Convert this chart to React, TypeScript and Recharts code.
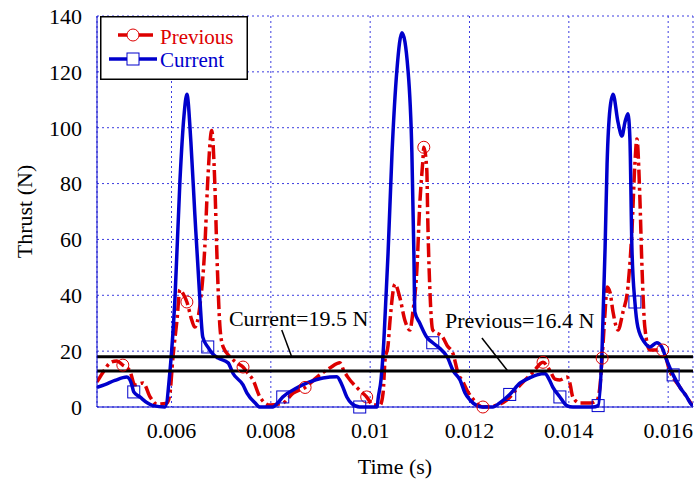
import {
  CartesianGrid,
  Legend,
  Line,
  LineChart,
  ReferenceDot,
  ReferenceLine,
  XAxis,
  YAxis,
} from "recharts";

const RED = "#dd0000";
const BLUE = "#0000cc";
const GRID = "#3c3ce0";
const FONT = "Liberation Serif";

// time (s) / thrust (N)
const prevTime = [
  0.0045, 0.00456, 0.00466, 0.00476, 0.0049, 0.00502, 0.00516, 0.00526, 0.00543, 0.00557,
  0.00571, 0.00591, 0.00597, 0.00603, 0.00611, 0.00617, 0.00625, 0.00631, 0.00641, 0.00647,
  0.00657, 0.00667, 0.00673, 0.00681, 0.00687, 0.00692, 0.00698, 0.00704, 0.00718, 0.0073,
  0.00744, 0.00754, 0.00764, 0.00778, 0.00798, 0.00824, 0.00845, 0.00869, 0.00893, 0.00919,
  0.00939, 0.00947, 0.00955, 0.00973, 0.00985, 0.00993, 0.01006, 0.0102, 0.01026, 0.0103,
  0.01036, 0.0104, 0.0105, 0.0106, 0.0107, 0.0108, 0.01086, 0.01094, 0.011, 0.01106,
  0.01108, 0.01114, 0.01116, 0.0112, 0.01126, 0.01146, 0.01155, 0.01167, 0.01177, 0.01187,
  0.01195, 0.01211, 0.01227, 0.01251, 0.01275, 0.01302, 0.01328, 0.01348, 0.01362, 0.01372,
  0.01382, 0.01396, 0.01402, 0.01408, 0.01422, 0.01442, 0.01457, 0.01463, 0.01467, 0.01473,
  0.01477, 0.01483, 0.01489, 0.01499, 0.01509, 0.01519, 0.01527, 0.01533, 0.01537, 0.01543,
  0.01547, 0.01553, 0.01563, 0.01577, 0.01589, 0.01603, 0.01624, 0.01636, 0.01648,
];
const prevThrust = [
  9, 10.7, 13.5, 15.8, 16.5, 15, 13, 7.9, 8.6, 3.6,
  1, 1.4, 5, 18, 31, 42, 40, 37.6, 31, 28.6,
  36, 57, 81, 99, 81, 51.5, 27.6, 21.5, 18, 16,
  14.3, 12, 9.7, 3.6, 0.7, 1.4, 5, 7, 10.7, 14,
  15.8, 13, 10.7, 7, 5, 3.6, 0.7, 0.7, 5, 17,
  22, 31, 44, 39, 31, 27.6, 34, 49, 73, 88,
  93, 85, 67, 43, 27.6, 25, 22, 19, 12, 9,
  6, 2, 0, 0.5, 2.5, 7.9, 12.5, 16, 13, 10,
  9.7, 10.7, 8.6, 3.6, 1.4, 1.4, 2.5, 8, 17.5, 34,
  43, 41, 34, 27.6, 34, 43, 63, 87, 96, 75,
  51.5, 28.6, 20.4, 20.4, 20.4, 13, 7, 4, 0.7,
];

const currTime = [
  0.0045, 0.00466, 0.00486, 0.0051, 0.0052, 0.00524, 0.00537, 0.00551, 0.00563, 0.00587,
  0.00597, 0.00607, 0.00617, 0.00625, 0.00631, 0.00639, 0.00647, 0.00657, 0.00663, 0.00673,
  0.00683, 0.00694, 0.00714, 0.00724, 0.00744, 0.00752, 0.00768, 0.00778, 0.00804, 0.00814,
  0.00824, 0.00849, 0.00873, 0.00905, 0.00933, 0.00943, 0.00953, 0.00963, 0.00979, 0.01014,
  0.01016, 0.01022, 0.01026, 0.01032, 0.01036, 0.01044, 0.01054, 0.01064, 0.01076, 0.01084,
  0.01088, 0.0109, 0.011, 0.01114, 0.01126, 0.0114, 0.01155, 0.01167, 0.01181, 0.01191,
  0.01201, 0.01215, 0.01227, 0.01247, 0.01261, 0.01281, 0.01302, 0.01322, 0.01336, 0.01352,
  0.0136, 0.01368, 0.01382, 0.01396, 0.01408, 0.01448, 0.01459, 0.01467, 0.01473, 0.01477,
  0.01483, 0.01489, 0.01499, 0.01507, 0.01513, 0.01519, 0.01523, 0.01527, 0.01533, 0.01539,
  0.01553, 0.01563, 0.01577, 0.01587, 0.01597, 0.0161, 0.01624, 0.01636, 0.01648, 0.0165,
];
const currThrust = [
  7, 8, 9.5, 10.7, 8, 5.4, 3.5, 1.5, 0.5, 0,
  13, 39, 81, 104, 112, 95, 69, 39, 25, 21.5,
  19, 17.5, 15.8, 12, 7.9, 5, 1.5, 0, 0, 1.5,
  3.6, 6.5, 8.6, 10.4, 10.8, 8, 3.6, 1.2, 0, 0,
  3, 10, 19, 40, 55, 91, 121, 134, 121, 91,
  55, 34, 30, 25, 23, 21, 18, 13, 9.7, 5,
  2.5, 0.5, 0, 0, 1.5, 4.5, 8.6, 10.5, 11.5, 12,
  10, 7, 3.6, 0.5, 0, 0, 0.5, 21, 57, 87,
  107, 112, 102, 97, 102, 105, 96, 57, 37.6, 28.6,
  23, 21.5, 23, 21.5, 16.8, 11.5, 7, 4, 0.7, 0.5,
];

const prevMarkers = [0.00502, 0.00631, 0.00744, 0.00869, 0.00993, 0.01108, 0.01227, 0.01348, 0.01467, 0.01589];
const currMarkers = [0.00524, 0.00673, 0.00824, 0.00979, 0.01126, 0.01281, 0.01382, 0.01459, 0.01533, 0.0161];

const xTicks = [0.006, 0.008, 0.01, 0.012, 0.014, 0.016];
const yTicks = [0, 20, 40, 60, 80, 100, 120, 140];

// mean thrust lines as drawn
const currMean = 18;
const prevMean = 12.9;

const prevData = prevTime.map((t, i) => ({ t, v: prevThrust[i] }));
const currData = currTime.map((t, i) => ({ t, v: currThrust[i] }));

const tickStyle = { fontSize: 22, fill: "#000", fontFamily: FONT };

function circleDot(props: any) {
  const { cx, cy, payload, index } = props;
  if (!prevMarkers.includes(payload.t)) return <g key={`pc${index}`} />;
  return <circle key={`pc${index}`} cx={cx} cy={cy} r={6} fill="none" stroke={RED} strokeWidth={1} />;
}

function squareDot(props: any) {
  const { cx, cy, payload, index } = props;
  if (!currMarkers.includes(payload.t)) return <g key={`cs${index}`} />;
  return (
    <rect key={`cs${index}`} x={cx - 6} y={cy - 6} width={12} height={12} fill="none" stroke={BLUE} strokeWidth={1} />
  );
}

function LegendBox() {
  return (
    <svg width={148} height={64} style={{ display: "block" }}>
      <rect x={0.75} y={0.75} width={146.5} height={62.5} fill="#fff" stroke="#000" strokeWidth={1.5} />
      <line x1={18} y1={19} x2={53} y2={19} stroke={RED} strokeWidth={3.5} />
      <circle cx={33} cy={19} r={6} fill="#fff" stroke={RED} strokeWidth={1} />
      <text x={60} y={28} fill={RED} fontSize={21} fontFamily={FONT}>
        Previous
      </text>
      <line x1={9} y1={43} x2={57} y2={43} stroke={BLUE} strokeWidth={3.5} />
      <rect x={27} y={37} width={12} height={12} fill="#fff" stroke={BLUE} strokeWidth={1} />
      <text x={60} y={51} fill={BLUE} fontSize={21} fontFamily={FONT}>
        Current
      </text>
    </svg>
  );
}

export default function App() {
  return (
    <div style={{ position: "absolute", left: 0, top: 0, background: "#fff", fontFamily: FONT }}>
      <LineChart width={696} height={480} margin={{ top: 16, right: 3, bottom: 0, left: 0 }} style={{ fontFamily: FONT }}>
        <CartesianGrid stroke={GRID} strokeDasharray="2 3" strokeWidth={1} />
        <XAxis
          dataKey="t"
          type="number"
          domain={[0.0045, 0.0165]}
          ticks={xTicks}
          allowDataOverflow
          height={73}
          tick={tickStyle}
          tickLine={false}
          tickSize={0}
          tickMargin={15}
          axisLine={{ stroke: BLUE }}
          label={{ value: "Time (s)", position: "insideBottom", offset: 6, style: { ...tickStyle } }}
        />
        <XAxis xAxisId="top" orientation="top" type="number" domain={[0, 1]} height={0} tick={false} tickLine={false} axisLine={{ stroke: BLUE }} />
        <YAxis
          type="number"
          domain={[0, 140]}
          ticks={yTicks}
          width={97}
          tick={tickStyle}
          tickLine={false}
          tickSize={0}
          tickMargin={15}
          axisLine={{ stroke: BLUE }}
          label={{
            value: "Thrust (N)",
            angle: -90,
            position: "insideLeft",
            offset: 24,
            style: { ...tickStyle, textAnchor: "middle" },
          }}
        />
        <YAxis yAxisId="right" orientation="right" domain={[0, 1]} width={0} tick={false} tickLine={false} axisLine={{ stroke: BLUE }} />
        <Line
          data={prevData}
          dataKey="v"
          type="monotone"
          stroke={RED}
          strokeWidth={3.5}
          strokeDasharray="14 4 3 4"
          dot={circleDot}
          activeDot={false}
          isAnimationActive={false}
        />
        <Line
          data={currData}
          dataKey="v"
          type="monotone"
          stroke={BLUE}
          strokeWidth={3.5}
          dot={squareDot}
          activeDot={false}
          isAnimationActive={false}
        />
        <ReferenceLine y={currMean} stroke="#000" strokeWidth={3} />
        <ReferenceLine y={prevMean} stroke="#000" strokeWidth={3} />
        <ReferenceLine segment={[{ x: 0.00822, y: 27.6 }, { x: 0.00842, y: currMean }]} stroke="#000" strokeWidth={1.5} />
        <ReferenceLine segment={[{ x: 0.01225, y: 24.7 }, { x: 0.01277, y: prevMean }]} stroke="#000" strokeWidth={1.5} />
        <ReferenceDot
          x={0.00856}
          y={31.9}
          r={0}
          stroke="none"
          label={{ value: "Current=19.5 N", position: "center", style: { ...tickStyle } }}
        />
        <ReferenceDot
          x={0.01301}
          y={31.1}
          r={0}
          stroke="none"
          label={{ value: "Previous=16.4 N", position: "center", style: { ...tickStyle } }}
        />
        <Legend
          layout="horizontal"
          verticalAlign="middle"
          align="center"
          content={() => <LegendBox />}
          wrapperStyle={{ left: 100, top: 16, width: 148, height: 64 }}
        />
      </LineChart>
    </div>
  );
}
